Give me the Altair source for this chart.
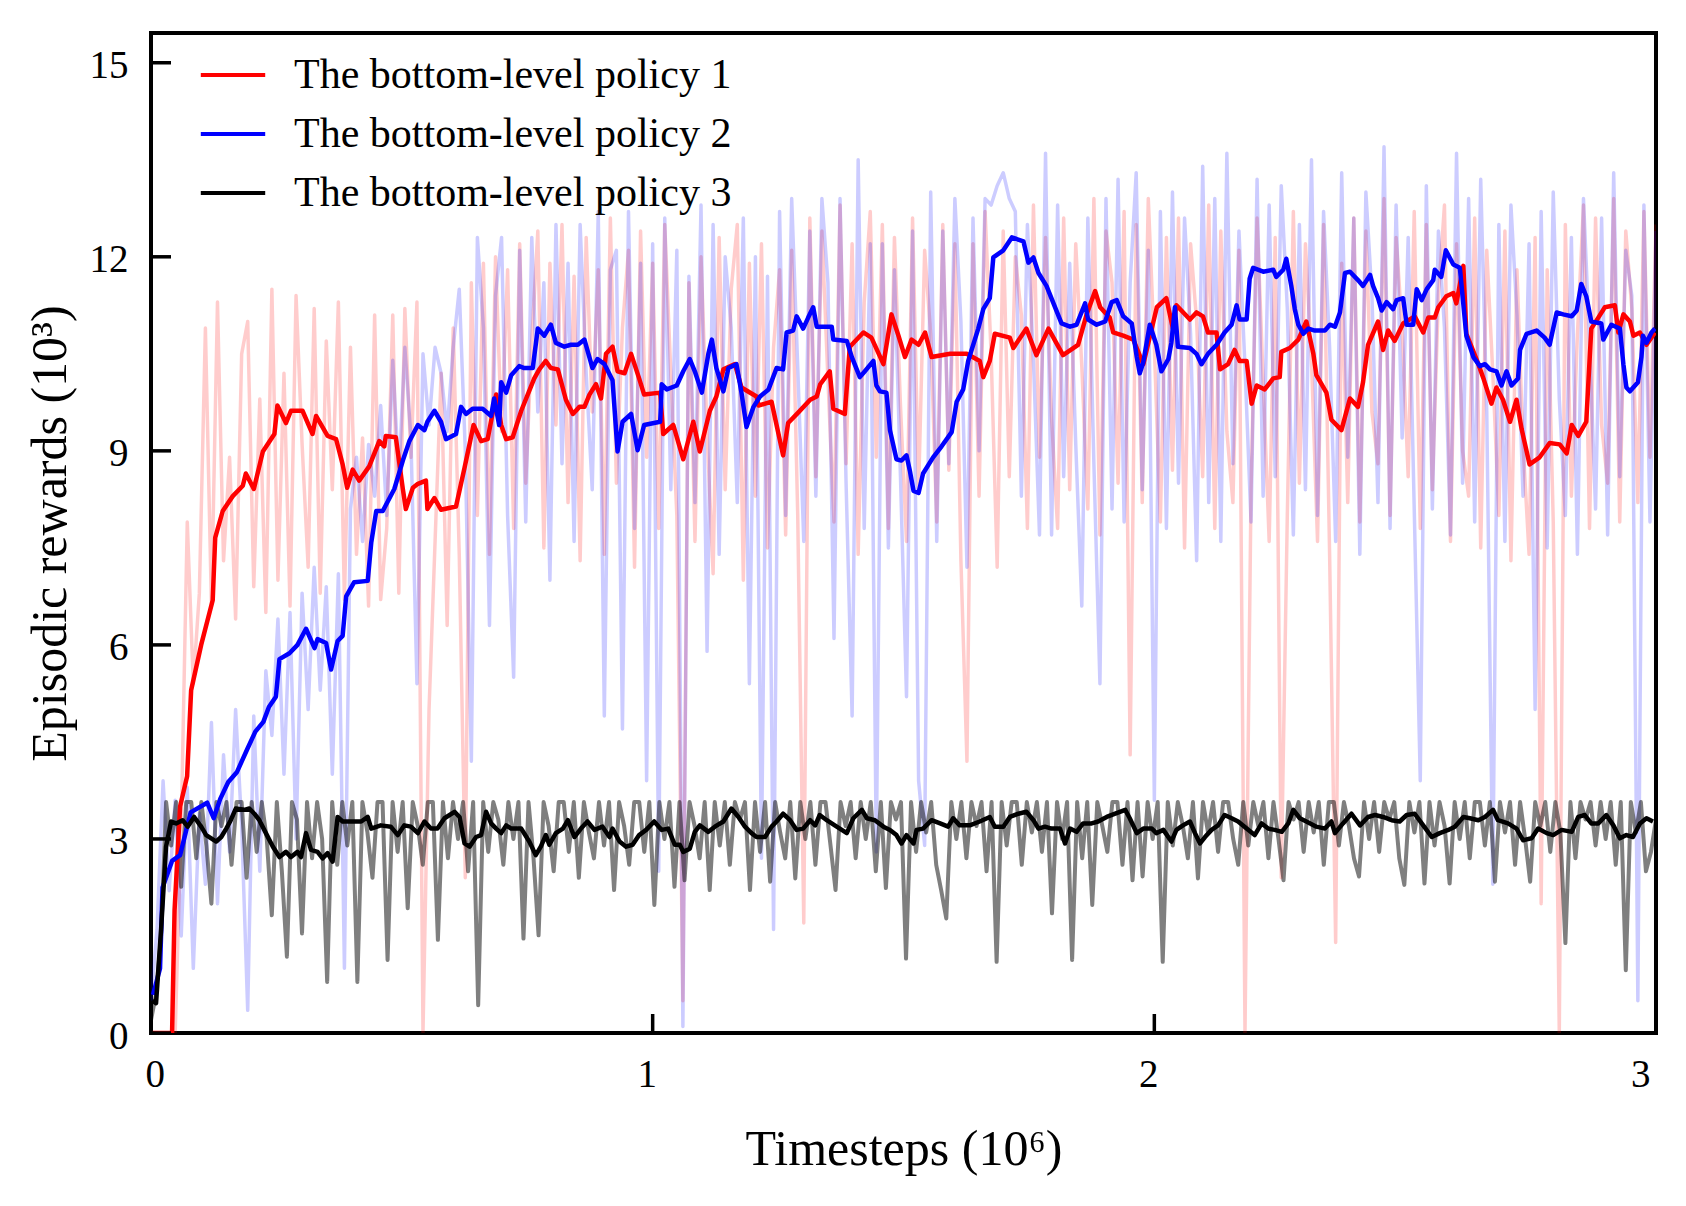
import pandas as pd
import altair as alt

policies = ['The bottom-level policy 1', 'The bottom-level policy 2', 'The bottom-level policy 3']
line_colors = ['#ff0000', '#0000ff', '#000000']
x_ticks = [0, 1, 2, 3]
y_ticks = [0, 3, 6, 9, 12, 15]

# raw episodic rewards (10^3), logged at evenly spaced timesteps over 0..3 (10^6)
red_raw = [
    0, 0, 0, 0, 0, 3.2, 7.9, 5.4, 6.8, 10.9,
    6.6, 11.3, 7.3, 8.9, 6.4, 10.5, 11.0, 6.9, 9.8, 6.5,
    11.5, 7.0, 10.2, 6.6, 11.4, 9.1, 7.2, 11.2, 6.8, 10.7,
    8.4, 11.3, 6.7, 10.6, 7.4, 9.2, 6.6, 11.1, 6.7, 7.8,
    11.1, 6.8, 11.2, 8.9, 11.3, 0.0, 5.0, 7.6, 10.2, 6.3,
    10.9, 7.4, 2.4, 11.6, 8.0, 11.9, 7.4, 12.0, 9.3, 11.8,
    7.8, 12.2, 8.5, 10.7, 12.4, 7.5, 11.9, 9.4, 12.5, 8.2,
    11.7, 7.3, 12.3, 9.6, 11.8, 7.4, 12.6, 8.5, 10.9, 12.1,
    7.2, 12.4, 8.9, 11.9, 7.8, 12.5, 10.2, 8.0, 0.5, 11.6,
    7.6, 12.0, 9.3, 7.1, 12.3, 8.4, 11.5, 12.5, 7.0, 11.9,
    8.3, 12.2, 7.5, 10.6, 11.8, 7.7, 12.1, 8.0, 1.7, 12.6,
    8.6, 12.4, 10.1, 7.9, 12.8, 8.8, 12.2, 7.4, 11.3, 12.7,
    8.9, 12.5, 7.8, 12.3, 9.7, 7.6, 12.6, 8.4, 12.1, 10.8,
    7.9, 12.5, 8.7, 12.2, 7.3, 4.2, 12.2, 8.3, 12.7, 10.5,
    7.2, 12.4, 8.6, 12.0, 11.1, 7.8, 12.8, 8.9, 12.3, 9.5,
    7.8, 12.6, 8.4, 12.2, 10.3, 8.1, 12.9, 7.7, 12.4, 11.6,
    8.5, 12.7, 4.3, 12.5, 8.2, 12.9, 10.6, 7.9, 12.3, 8.7,
    12.6, 7.5, 12.2, 11.0, 8.6, 12.8, 7.8, 12.4, 9.3, 8.2,
    12.1, 0.0, 8.4, 12.6, 10.1, 7.6, 12.3, 2.4, 8.0, 12.7,
    8.5, 12.2, 10.4, 7.6, 12.5, 7.4, 1.4, 11.9, 8.2, 12.6,
    7.9, 12.4, 9.6, 8.8, 12.9, 8.0, 12.3, 10.9, 8.6, 12.7,
    7.8, 12.5, 8.4, 11.4, 12.8, 7.6, 12.2, 9.0, 8.3, 12.6,
    7.5, 12.1, 10.2, 8.0, 12.4, 7.3, 11.8, 9.1, 7.4, 12.3,
    2.0, 11.8, 7.9, 0.0, 12.5, 8.3, 10.8, 12.8, 7.8, 12.6,
    9.4, 8.5, 12.9, 7.9, 12.4, 11.2, 8.2, 12.7, 8.9, 12.5,
]
blue_raw = [
    0.5, 1.6, 3.9, 2.2, 3.6, 1.5, 3.8, 1.0, 3.4, 2.3,
    4.8, 2.0, 4.3, 2.8, 5.0, 3.2, 0.35, 4.9, 2.5, 5.6,
    4.6, 6.4, 4.0, 6.5, 3.0, 6.8, 5.0, 7.2, 5.3, 6.9,
    4.0, 7.1, 1.0, 8.1, 8.9, 7.6, 9.1, 8.3, 9.7, 8.0,
    10.4, 8.6, 10.6, 9.2, 5.4, 10.5, 9.4, 10.6, 10.2, 9.3,
    10.6, 11.5, 9.0, 4.2, 12.3, 10.9, 6.3, 11.4, 12.3, 8.0,
    5.5, 12.1, 7.9, 12.3, 9.6, 11.6, 7.0, 12.5, 8.8, 11.9,
    7.6, 12.5, 10.2, 8.4, 12.7, 4.9, 11.8, 12.1, 4.7, 12.7,
    7.8, 11.9, 3.9, 12.2, 2.5, 12.6, 8.4, 12.1, 0.1, 11.7,
    8.2, 12.8, 5.9, 12.5, 7.4, 12.0, 10.9, 8.2, 12.6, 5.4,
    12.0, 2.7, 11.7, 1.6, 12.7, 8.0, 12.9, 10.3, 7.6, 12.4,
    8.3, 12.9, 11.6, 6.1, 12.9, 8.5, 4.9, 13.5, 7.8, 12.2,
    2.8, 12.2, 7.5, 11.8, 8.6, 5.2, 12.4, 3.9, 2.9, 13.0,
    7.6, 12.4, 8.8, 12.9, 11.0, 7.2, 12.6, 9.0, 12.9, 12.8,
    13.1, 13.3, 12.9, 12.7, 8.3, 12.5, 10.4, 7.7, 13.6, 7.7,
    12.8, 8.6, 11.9, 9.1, 6.6, 12.6, 8.8, 5.4, 12.9, 8.1,
    13.2, 7.9, 11.6, 13.3, 8.4, 12.1, 3.6, 12.7, 7.8, 13.0,
    8.5, 12.6, 10.8, 7.3, 13.4, 8.2, 12.9, 7.6, 13.6, 8.8,
    12.4, 10.3, 7.9, 13.2, 8.3, 12.8, 8.6, 13.1, 11.2, 7.7,
    12.5, 8.4, 13.5, 8.0, 12.7, 10.6, 7.6, 13.3, 8.9, 12.6,
    7.4, 13.0, 11.4, 8.2, 13.7, 7.8, 12.8, 9.2, 12.3, 8.1,
    3.9, 13.1, 8.1, 12.4, 10.9, 7.7, 13.6, 8.5, 12.9, 7.9,
    13.2, 9.6, 2.3, 12.5, 7.6, 12.8, 11.1, 8.3, 12.2, 5.0,
    12.7, 7.5, 13.0, 9.8, 8.0, 12.3, 7.4, 12.9, 10.7, 8.1,
    12.6, 7.7, 13.3, 8.6, 12.1, 11.4, 0.5, 12.8, 7.9, 12.4,
]
gray_raw = [
    0.2, 0.6, 1.5, 3.57, 2.9, 3.57, 2.26, 3.57, 3.57, 2.7,
    3.57, 2.9, 2.0, 3.57, 3.2, 3.57, 2.6, 3.57, 3.57, 2.4,
    3.57, 2.8, 3.57, 3.0, 1.82, 3.57, 2.5, 1.18, 3.57, 3.3,
    1.54, 3.57, 2.7, 3.57, 3.0, 0.79, 3.57, 2.6, 3.57, 2.9,
    3.57, 0.79, 3.57, 3.1, 2.4, 3.57, 3.57, 1.13, 3.57, 2.8,
    3.57, 1.93, 3.57, 3.2, 2.6, 3.57, 3.57, 1.44, 3.57, 2.7,
    3.57, 3.0, 3.57, 2.5, 3.57, 0.43, 3.57, 2.8, 3.57, 3.3,
    2.6, 3.57, 3.0, 3.57, 1.46, 3.57, 2.7, 1.51, 3.57, 3.2,
    2.5, 3.57, 3.57, 2.8, 3.57, 2.4, 3.57, 3.1, 2.7, 3.57,
    2.9, 3.57, 2.21, 3.57, 3.2, 2.6, 3.57, 3.57, 2.8, 3.57,
    1.98, 3.57, 3.0, 3.57, 2.26, 3.57, 2.36, 3.57, 3.2, 2.7,
    3.57, 2.21, 3.57, 2.9, 3.57, 2.6, 3.57, 3.3, 3.57, 2.21,
    3.57, 2.8, 3.57, 2.34, 3.57, 3.1, 2.7, 3.57, 2.39, 3.57,
    3.0, 3.57, 2.6, 3.57, 3.57, 2.9, 2.21, 3.57, 3.2, 3.57,
    2.7, 3.57, 3.0, 3.57, 2.5, 3.57, 2.24, 3.57, 3.3, 3.57,
    1.15, 3.57, 2.8, 3.57, 3.1, 3.57, 2.6, 2.2, 1.77, 3.57,
    3.0, 3.57, 2.7, 3.57, 3.2, 3.57, 2.5, 3.57, 1.10, 3.57,
    2.9, 3.57, 3.57, 2.6, 3.57, 3.1, 3.57, 2.8, 3.57, 1.85,
    3.57, 3.0, 3.57, 1.13, 3.57, 2.7, 3.57, 1.98, 3.57, 3.2,
    2.8, 3.57, 3.57, 2.6, 3.57, 2.36, 3.57, 2.42, 3.57, 3.0,
    3.57, 1.10, 3.57, 2.9, 3.57, 3.2, 2.7, 3.57, 2.39, 3.57,
    3.1, 3.57, 2.8, 3.57, 3.57, 3.0, 2.6, 3.57, 2.9, 3.57,
    3.2, 3.57, 2.7, 3.57, 3.0, 2.36, 3.57, 3.3, 3.57, 2.8,
    3.57, 3.1, 3.57, 2.6, 3.57, 3.57, 2.9, 3.57, 3.2, 2.7,
    2.42, 3.57, 3.0, 3.57, 2.8, 3.57, 3.3, 3.57, 2.7, 2.29,
    3.57, 3.1, 3.57, 2.31, 3.57, 2.9, 3.57, 3.2, 2.31, 3.57,
    3.0, 3.57, 2.7, 3.57, 3.57, 2.9, 3.57, 2.34, 3.57, 3.1,
    3.57, 2.6, 3.57, 3.0, 2.34, 3.57, 3.2, 3.57, 2.8, 3.57,
    3.1, 1.39, 3.57, 2.7, 3.57, 3.3, 3.57, 2.9, 3.57, 3.0,
    3.57, 2.6, 3.57, 0.97, 3.57, 3.1, 3.57, 2.5, 2.80, 3.3,
]

# smoothed curves, (timestep, reward)
red_smooth = [
    (0.0, 0.0), (0.042, 0.0), (0.047, 1.9), (0.058, 3.5), (0.072, 3.97), (0.080, 5.3), (0.100, 6.0),
    (0.123, 6.69), (0.128, 7.66), (0.143, 8.07), (0.163, 8.30), (0.183, 8.46), (0.189, 8.65), (0.205, 8.41),
    (0.223, 8.99), (0.246, 9.26), (0.252, 9.70), (0.269, 9.43), (0.279, 9.62), (0.302, 9.62), (0.322, 9.26),
    (0.329, 9.54), (0.352, 9.23), (0.369, 9.18), (0.382, 8.79), (0.391, 8.43), (0.402, 8.71), (0.415, 8.54),
    (0.435, 8.76), (0.455, 9.15), (0.465, 9.07), (0.468, 9.23), (0.488, 9.21), (0.502, 8.41), (0.508, 8.10),
    (0.522, 8.43), (0.532, 8.49), (0.548, 8.54), (0.551, 8.10), (0.565, 8.27), (0.578, 8.09), (0.608, 8.14),
    (0.625, 8.74), (0.643, 9.40), (0.658, 9.15), (0.671, 9.18), (0.688, 9.87), (0.698, 9.40), (0.708, 9.18),
    (0.721, 9.21), (0.738, 9.62), (0.764, 10.12), (0.774, 10.26), (0.787, 10.39), (0.797, 10.28),
    (0.811, 10.26), (0.827, 9.79), (0.841, 9.57), (0.854, 9.68), (0.864, 9.68), (0.874, 9.87), (0.887, 10.03),
    (0.897, 9.81), (0.907, 10.50), (0.920, 10.61), (0.930, 10.23), (0.944, 10.20), (0.957, 10.50),
    (0.973, 10.12), (0.983, 9.87), (1.015, 9.90), (1.021, 9.26), (1.041, 9.40), (1.061, 8.87), (1.081, 9.45),
    (1.094, 8.99), (1.114, 9.62), (1.127, 9.84), (1.141, 10.26), (1.164, 10.34), (1.177, 9.98), (1.207, 9.84),
    (1.211, 9.70), (1.237, 9.76), (1.260, 8.93), (1.270, 9.43), (1.290, 9.59), (1.314, 9.79), (1.327, 9.84),
    (1.334, 10.03), (1.353, 10.23), (1.360, 9.65), (1.383, 9.57), (1.393, 10.61), (1.420, 10.83),
    (1.436, 10.75), (1.460, 10.34), (1.476, 11.11), (1.490, 10.78), (1.503, 10.45), (1.516, 10.72),
    (1.530, 10.64), (1.543, 10.83), (1.556, 10.45), (1.593, 10.50), (1.626, 10.50), (1.652, 10.39),
    (1.659, 10.14), (1.672, 10.39), (1.682, 10.81), (1.712, 10.75), (1.719, 10.59), (1.745, 10.89),
    (1.765, 10.48), (1.789, 10.89), (1.818, 10.48), (1.848, 10.64), (1.865, 11.11), (1.882, 11.47),
    (1.892, 11.22), (1.911, 11.06), (1.918, 10.83), (1.938, 10.78), (1.958, 10.72), (1.978, 10.34),
    (2.005, 11.22), (2.024, 11.36), (2.037, 10.89), (2.044, 11.25), (2.071, 11.03), (2.084, 11.14),
    (2.097, 11.08), (2.107, 10.83), (2.124, 10.83), (2.131, 10.26), (2.147, 10.34), (2.160, 10.56),
    (2.170, 10.39), (2.184, 10.39), (2.194, 9.73), (2.204, 10.01), (2.220, 9.95), (2.237, 10.12),
    (2.250, 10.14), (2.253, 10.53), (2.270, 10.59), (2.287, 10.72), (2.303, 11.00), (2.317, 10.50),
    (2.323, 10.17), (2.343, 9.90), (2.353, 9.48), (2.373, 9.32), (2.390, 9.81), (2.406, 9.68), (2.416, 10.06),
    (2.426, 10.64), (2.446, 11.00), (2.456, 10.56), (2.466, 10.86), (2.479, 10.70), (2.496, 10.97),
    (2.519, 11.08), (2.536, 10.83), (2.546, 11.06), (2.559, 11.06), (2.566, 11.22), (2.582, 11.39),
    (2.596, 11.44), (2.602, 11.28), (2.616, 11.86), (2.622, 10.81), (2.646, 10.34), (2.656, 10.12),
    (2.672, 9.73), (2.682, 9.98), (2.695, 9.79), (2.709, 9.45), (2.722, 9.79), (2.732, 9.34), (2.748, 8.79),
    (2.768, 8.90), (2.788, 9.12), (2.808, 9.10), (2.822, 8.96), (2.832, 9.40), (2.845, 9.23), (2.861, 9.45),
    (2.871, 10.89), (2.885, 11.06), (2.898, 11.22), (2.918, 11.25), (2.925, 10.83), (2.935, 11.11),
    (2.948, 11.00), (2.955, 10.78), (2.968, 10.83), (2.981, 10.64), (2.998, 10.83),
]
blue_smooth = [
    (0.004, 0.59), (0.018, 1.0), (0.023, 2.25), (0.042, 2.66), (0.058, 2.75), (0.079, 3.41), (0.112, 3.56),
    (0.125, 3.32), (0.138, 3.62), (0.154, 3.88), (0.171, 4.03), (0.192, 4.39), (0.208, 4.66), (0.224, 4.81),
    (0.235, 5.04), (0.249, 5.20), (0.256, 5.78), (0.276, 5.87), (0.292, 6.00), (0.309, 6.25), (0.326, 5.95),
    (0.332, 6.09), (0.349, 6.03), (0.359, 5.62), (0.372, 6.06), (0.382, 6.14), (0.389, 6.75), (0.405, 6.97),
    (0.432, 6.99), (0.439, 7.58), (0.449, 8.07), (0.462, 8.07), (0.468, 8.16), (0.485, 8.41), (0.502, 8.85),
    (0.515, 9.15), (0.532, 9.40), (0.545, 9.32), (0.551, 9.45), (0.565, 9.62), (0.578, 9.45), (0.588, 9.18),
    (0.608, 9.26), (0.618, 9.68), (0.628, 9.57), (0.641, 9.65), (0.661, 9.65), (0.678, 9.54), (0.684, 9.81),
    (0.694, 9.40), (0.698, 10.06), (0.708, 9.90), (0.718, 10.17), (0.734, 10.31), (0.744, 10.28),
    (0.761, 10.28), (0.771, 10.89), (0.784, 10.78), (0.797, 10.95), (0.807, 10.67), (0.824, 10.61),
    (0.837, 10.64), (0.851, 10.64), (0.864, 10.72), (0.880, 10.28), (0.890, 10.42), (0.904, 10.34),
    (0.920, 10.09), (0.930, 8.99), (0.940, 9.45), (0.957, 9.57), (0.970, 9.01), (0.983, 9.40), (1.015, 9.45),
    (1.018, 10.03), (1.028, 9.95), (1.048, 10.01), (1.061, 10.23), (1.074, 10.42), (1.084, 10.23),
    (1.098, 9.90), (1.111, 10.50), (1.118, 10.72), (1.127, 10.28), (1.141, 9.92), (1.151, 10.28),
    (1.167, 10.34), (1.177, 9.90), (1.187, 9.37), (1.201, 9.68), (1.214, 9.84), (1.231, 9.95), (1.247, 10.28),
    (1.260, 10.26), (1.267, 10.83), (1.280, 10.86), (1.287, 11.08), (1.300, 10.89), (1.310, 11.06),
    (1.320, 11.22), (1.327, 10.92), (1.357, 10.92), (1.360, 10.72), (1.387, 10.70), (1.397, 10.45),
    (1.413, 10.14), (1.423, 10.23), (1.440, 10.39), (1.446, 10.01), (1.453, 9.92), (1.466, 9.90),
    (1.473, 9.32), (1.486, 8.87), (1.496, 8.85), (1.506, 8.93), (1.513, 8.68), (1.520, 8.38), (1.530, 8.35),
    (1.539, 8.65), (1.559, 8.90), (1.576, 9.07), (1.596, 9.29), (1.606, 9.76), (1.619, 9.95), (1.629, 10.39),
    (1.649, 10.89), (1.659, 11.19), (1.672, 11.36), (1.679, 11.99), (1.699, 12.10), (1.716, 12.30),
    (1.739, 12.24), (1.749, 11.91), (1.759, 11.99), (1.769, 11.75), (1.785, 11.55), (1.815, 10.97),
    (1.832, 10.92), (1.845, 10.95), (1.862, 11.28), (1.868, 11.03), (1.885, 10.95), (1.902, 11.00),
    (1.915, 11.30), (1.925, 11.33), (1.938, 11.08), (1.955, 10.97), (1.965, 10.45), (1.971, 10.20),
    (1.978, 10.37), (1.991, 10.95), (2.004, 10.64), (2.014, 10.23), (2.028, 10.42), (2.034, 10.67),
    (2.041, 11.22), (2.047, 10.61), (2.071, 10.59), (2.084, 10.50), (2.094, 10.34), (2.107, 10.50),
    (2.124, 10.64), (2.140, 10.83), (2.154, 10.95), (2.164, 11.25), (2.170, 11.03), (2.184, 11.03),
    (2.190, 11.66), (2.197, 11.83), (2.217, 11.77), (2.237, 11.80), (2.243, 11.69), (2.257, 11.80),
    (2.263, 11.97), (2.273, 11.55), (2.280, 11.19), (2.287, 10.95), (2.297, 10.81), (2.307, 10.89),
    (2.320, 10.86), (2.340, 10.86), (2.350, 10.95), (2.360, 10.92), (2.370, 11.14), (2.380, 11.75),
    (2.390, 11.77), (2.406, 11.64), (2.416, 11.55), (2.430, 11.72), (2.436, 11.55), (2.446, 11.36),
    (2.453, 11.17), (2.463, 11.30), (2.476, 11.19), (2.483, 11.33), (2.496, 11.36), (2.503, 10.95),
    (2.516, 10.95), (2.523, 11.50), (2.533, 11.33), (2.543, 11.50), (2.556, 11.64), (2.559, 11.80),
    (2.572, 11.69), (2.581, 12.10), (2.596, 11.88), (2.609, 11.83), (2.622, 10.78), (2.636, 10.45),
    (2.649, 10.31), (2.659, 10.34), (2.669, 10.26), (2.682, 10.23), (2.692, 10.01), (2.702, 10.23),
    (2.712, 10.01), (2.725, 10.12), (2.729, 10.56), (2.742, 10.81), (2.762, 10.86), (2.778, 10.75),
    (2.788, 10.64), (2.802, 11.14), (2.815, 11.11), (2.832, 11.08), (2.842, 11.17), (2.851, 11.58),
    (2.861, 11.39), (2.871, 11.00), (2.891, 10.97), (2.895, 10.72), (2.911, 10.95), (2.928, 10.89),
    (2.935, 10.34), (2.941, 9.98), (2.948, 9.92), (2.964, 10.06), (2.971, 10.45), (2.974, 10.78),
    (2.981, 10.67), (2.991, 10.83), (2.998, 10.89),
]
black_smooth = [
    (0.003, 0.5), (0.010, 0.46), (0.020, 1.59), (0.030, 2.88), (0.040, 3.27), (0.050, 3.24), (0.063, 3.29),
    (0.073, 3.19), (0.086, 3.34), (0.100, 3.19), (0.110, 3.06), (0.120, 3.01), (0.130, 2.96), (0.140, 3.03),
    (0.150, 3.16), (0.159, 3.29), (0.169, 3.47), (0.186, 3.45), (0.196, 3.47), (0.206, 3.39), (0.216, 3.29),
    (0.229, 3.09), (0.243, 2.88), (0.256, 2.72), (0.269, 2.80), (0.279, 2.72), (0.292, 2.80), (0.299, 2.72),
    (0.309, 3.09), (0.319, 2.83), (0.332, 2.80), (0.342, 2.70), (0.352, 2.78), (0.362, 2.65), (0.372, 3.34),
    (0.382, 3.27), (0.399, 3.27), (0.419, 3.27), (0.432, 3.34), (0.439, 3.16), (0.458, 3.21), (0.478, 3.19),
    (0.492, 3.06), (0.505, 3.21), (0.518, 3.19), (0.532, 3.09), (0.545, 3.27), (0.558, 3.16), (0.571, 3.16),
    (0.585, 3.32), (0.605, 3.42), (0.615, 3.34), (0.625, 2.93), (0.635, 2.88), (0.648, 3.03), (0.658, 3.06),
    (0.668, 3.42), (0.678, 3.24), (0.688, 3.16), (0.698, 3.09), (0.708, 3.21), (0.718, 3.16), (0.738, 3.16),
    (0.754, 2.96), (0.767, 2.75), (0.777, 2.88), (0.787, 3.06), (0.794, 2.91), (0.807, 3.09), (0.821, 3.16),
    (0.831, 3.29), (0.844, 3.03), (0.857, 3.16), (0.870, 3.27), (0.884, 3.14), (0.900, 3.19), (0.914, 3.03),
    (0.920, 3.16), (0.934, 2.96), (0.947, 2.88), (0.960, 2.91), (0.973, 3.06), (0.987, 3.14), (1.003, 3.27),
    (1.018, 3.14), (1.031, 3.16), (1.044, 2.91), (1.054, 2.91), (1.061, 2.80), (1.074, 2.85), (1.084, 3.11),
    (1.094, 3.21), (1.111, 3.11), (1.124, 3.19), (1.141, 3.27), (1.157, 3.47), (1.171, 3.34), (1.184, 3.19),
    (1.197, 3.09), (1.207, 3.03), (1.224, 3.03), (1.237, 3.19), (1.247, 3.27), (1.260, 3.39), (1.274, 3.29),
    (1.287, 3.14), (1.300, 3.16), (1.314, 3.29), (1.324, 3.21), (1.333, 3.37), (1.347, 3.29), (1.363, 3.21),
    (1.377, 3.14), (1.387, 3.09), (1.400, 3.32), (1.417, 3.45), (1.427, 3.32), (1.443, 3.29), (1.460, 3.19),
    (1.473, 3.14), (1.486, 3.06), (1.496, 2.93), (1.506, 3.06), (1.520, 2.93), (1.526, 3.14), (1.539, 3.16),
    (1.556, 3.29), (1.573, 3.24), (1.589, 3.19), (1.599, 3.32), (1.612, 3.21), (1.632, 3.21), (1.652, 3.27),
    (1.672, 3.34), (1.682, 3.19), (1.699, 3.19), (1.712, 3.34), (1.729, 3.39), (1.745, 3.42), (1.759, 3.29),
    (1.769, 3.16), (1.782, 3.19), (1.795, 3.16), (1.812, 3.16), (1.822, 2.93), (1.832, 3.16), (1.845, 3.11),
    (1.858, 3.24), (1.875, 3.24), (1.888, 3.27), (1.905, 3.34), (1.922, 3.39), (1.942, 3.45), (1.951, 3.32),
    (1.965, 3.09), (1.978, 3.16), (1.995, 3.16), (2.004, 3.09), (2.018, 3.14), (2.034, 2.96), (2.044, 3.14),
    (2.057, 3.21), (2.071, 3.27), (2.081, 3.09), (2.091, 2.93), (2.101, 3.03), (2.114, 3.14), (2.127, 3.21),
    (2.140, 3.37), (2.154, 3.32), (2.167, 3.27), (2.184, 3.16), (2.200, 3.06), (2.214, 3.24), (2.227, 3.16),
    (2.240, 3.14), (2.254, 3.11), (2.267, 3.24), (2.277, 3.45), (2.290, 3.32), (2.303, 3.27), (2.323, 3.19),
    (2.340, 3.16), (2.353, 3.27), (2.360, 3.09), (2.376, 3.24), (2.393, 3.39), (2.410, 3.21), (2.426, 3.34),
    (2.440, 3.37), (2.456, 3.34), (2.473, 3.29), (2.489, 3.27), (2.503, 3.37), (2.519, 3.39), (2.536, 3.21),
    (2.553, 3.03), (2.569, 3.09), (2.586, 3.14), (2.599, 3.19), (2.616, 3.34), (2.629, 3.32), (2.646, 3.29),
    (2.659, 3.34), (2.675, 3.45), (2.685, 3.29), (2.705, 3.24), (2.722, 3.16), (2.735, 2.98), (2.752, 3.01),
    (2.765, 3.16), (2.782, 3.09), (2.795, 3.06), (2.812, 3.14), (2.832, 3.11), (2.845, 3.34), (2.858, 3.37),
    (2.871, 3.24), (2.885, 3.24), (2.901, 3.37), (2.915, 3.21), (2.928, 3.01), (2.941, 3.06), (2.954, 3.03),
    (2.968, 3.24), (2.981, 3.32), (2.994, 3.27),
]


def raw_frame(values):
    n = len(values)
    return pd.DataFrame({'step': [3 * i / (n - 1) for i in range(n)], 'reward': values})


df_smooth = pd.concat([
    pd.DataFrame(pts, columns=['step', 'reward']).assign(policy=name)
    for pts, name in zip([red_smooth, blue_smooth, black_smooth], policies)
])

# same x / y definition in every layer so the axes merge cleanly
x_enc = alt.X('step:Q', scale=alt.Scale(domain=[0, 3], nice=False),
              axis=alt.Axis(values=x_ticks, title='Timesteps (10⁶)'))
y_enc = alt.Y('reward:Q', scale=alt.Scale(domain=[0, 15.46], nice=False),
              axis=alt.Axis(values=y_ticks, title='Episodic rewards (10³)'))

raw_red = alt.Chart(raw_frame(red_raw)).mark_line(
    color='#ff0000', opacity=0.2, strokeWidth=3.5, strokeJoin='round', clip=True
).encode(x_enc, y_enc)
raw_blue = alt.Chart(raw_frame(blue_raw)).mark_line(
    color='#0000ff', opacity=0.2, strokeWidth=3.5, strokeJoin='round', clip=True
).encode(x_enc, y_enc)
raw_gray = alt.Chart(raw_frame(gray_raw)).mark_line(
    color='#000000', opacity=0.5, strokeWidth=4, strokeJoin='round', clip=True
).encode(x_enc, y_enc)

smooth = alt.Chart(df_smooth).mark_line(strokeWidth=4.5, strokeJoin='round', clip=True).encode(
    x_enc, y_enc,
    alt.Color('policy:N', scale=alt.Scale(domain=policies, range=line_colors), legend=alt.Legend(
        title=None, orient='none', legendX=52, legendY=12, padding=0, rowPadding=8,
        symbolType='M-1.15,0H1.15', symbolSize=3136, symbolStrokeWidth=4,
        labelFont='Liberation Serif', labelFontSize=42, labelColor='black',
        labelOffset=31, labelLimit=800,
    )),
    order=alt.Order('step:Q'),
)

# inward tick marks
y_tick_marks = alt.Chart(pd.DataFrame({'reward': y_ticks})).mark_rule(
    color='black', strokeWidth=3.5
).encode(y_enc, x=alt.value(0), x2=alt.value(20))
x_tick_marks = alt.Chart(pd.DataFrame({'step': x_ticks})).mark_rule(
    color='black', strokeWidth=3.5
).encode(x_enc, y=alt.value(1000), y2=alt.value(981))

chart = alt.layer(raw_red, raw_blue, raw_gray, smooth, y_tick_marks, x_tick_marks).properties(
    width=1505, height=1000,
    autosize=alt.AutoSizeParams(type='none'),
    padding={'left': 143, 'top': 25, 'right': 22, 'bottom': 165},
).configure_view(
    stroke='black', strokeWidth=4
).configure_axis(
    grid=False, domain=False, ticks=False, tickSize=0,
    labelFont='Liberation Serif', labelFontSize=39, labelColor='black',
    titleFont='Liberation Serif', titleFontSize=50, titleFontWeight='normal', titleColor='black',
).configure_axisX(
    labelPadding=22, labelOffset=-6, titlePadding=30
).configure_axisY(
    labelPadding=23, labelOffset=3, titlePadding=14
)

chart.save('out.html', embed_options={'renderer': 'svg', 'actions': False})
